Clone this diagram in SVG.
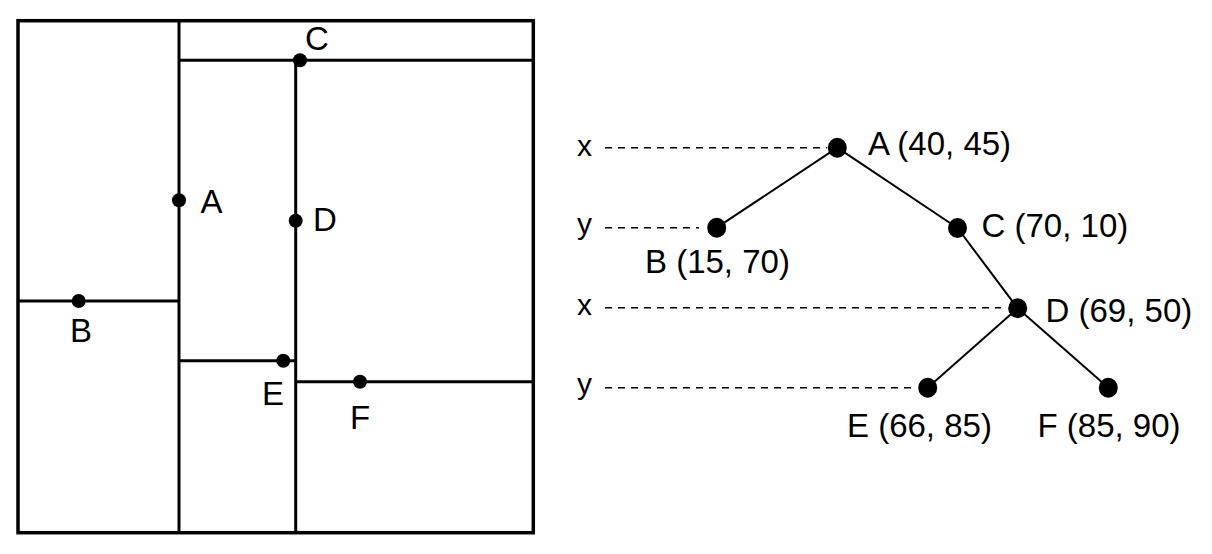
<svg xmlns="http://www.w3.org/2000/svg" width="1212" height="554" viewBox="0 0 1212 554">
<style>
.t{font-family:"Liberation Sans",Arial,sans-serif;font-size:33px;fill:#000}
.ax{font-family:"Liberation Sans",Arial,sans-serif;font-size:30px;fill:#000}
.frame{fill:none;stroke:#000;stroke-width:3.5}
.cut{fill:none;stroke:#000;stroke-width:3}
.edge{stroke:#000;stroke-width:2;fill:none}
.dash{stroke:#000;stroke-width:1.4;stroke-dasharray:7 6;fill:none}
.pt{fill:#000}
</style>
<rect x="0" y="0" width="1212" height="554" fill="#fff"/>
<g id="plane">
  <rect class="frame" x="18" y="20.7" width="515.3" height="512"/>
  <line class="cut" x1="179" y1="20.7" x2="179" y2="532.7"/>
  <line class="cut" x1="179" y1="60.3" x2="533.3" y2="60.3"/>
  <line class="cut" x1="295.7" y1="60.3" x2="295.7" y2="532.7"/>
  <line class="cut" x1="18" y1="301" x2="179" y2="301"/>
  <line class="cut" x1="179" y1="360.7" x2="295.7" y2="360.7"/>
  <line class="cut" x1="295.7" y1="381.7" x2="533.3" y2="381.7"/>
  <circle class="pt" cx="179" cy="200.3" r="7"/>
  <circle class="pt" cx="300" cy="60.3" r="7"/>
  <circle class="pt" cx="295.7" cy="220.7" r="7"/>
  <circle class="pt" cx="78.7" cy="301" r="7"/>
  <circle class="pt" cx="283.3" cy="360.7" r="7"/>
  <circle class="pt" cx="360" cy="381.7" r="7"/>
  <text class="t" x="200.5" y="213">A</text>
  <text class="t" x="305" y="50">C</text>
  <text class="t" x="313" y="230.5">D</text>
  <text class="t" x="70" y="341.5">B</text>
  <text class="t" x="262" y="405">E</text>
  <text class="t" x="350" y="429.3">F</text>
</g>
<g id="connectors">
  <line class="dash" x1="605" y1="147.7" x2="827" y2="147.7"/>
  <line class="dash" x1="605" y1="227.7" x2="699" y2="227.7"/>
  <line class="dash" x1="605" y1="307.7" x2="1001" y2="307.7"/>
  <line class="dash" x1="605" y1="387.7" x2="916" y2="387.7"/>
  <line class="edge" x1="837.3" y1="147.7" x2="716.7" y2="227.7"/>
  <line class="edge" x1="837.3" y1="147.7" x2="957.5" y2="228"/>
  <line class="edge" x1="957.5" y1="228" x2="1017.7" y2="308.3"/>
  <line class="edge" x1="1017.7" y1="308.3" x2="927.7" y2="387.7"/>
  <line class="edge" x1="1017.7" y1="308.3" x2="1108.3" y2="387.7"/>
</g>
<g id="levels">
  <text class="ax" x="577" y="155.5">x</text>
  <text class="ax" x="577" y="234">y</text>
  <text class="ax" x="577" y="315">x</text>
  <text class="ax" x="577" y="394">y</text>
</g>
<g id="node-A"><ellipse class="pt" cx="837.3" cy="147.7" rx="9.5" ry="10"/><text class="t" x="868" y="155">A (40, 45)</text></g>
<g id="node-B"><ellipse class="pt" cx="716.7" cy="227.7" rx="9.5" ry="10"/><text class="t" x="645" y="272.5">B (15, 70)</text></g>
<g id="node-C"><ellipse class="pt" cx="957.5" cy="228" rx="9.5" ry="10"/><text class="t" x="981.5" y="237">C (70, 10)</text></g>
<g id="node-D"><ellipse class="pt" cx="1017.7" cy="308.3" rx="9.5" ry="10"/><text class="t" x="1045.5" y="321.7">D (69, 50)</text></g>
<g id="node-E"><ellipse class="pt" cx="927.7" cy="387.7" rx="9.5" ry="10"/><text class="t" x="847" y="437">E (66, 85)</text></g>
<g id="node-F"><ellipse class="pt" cx="1108.3" cy="387.7" rx="9.5" ry="10"/><text class="t" x="1037.5" y="437">F (85, 90)</text></g>
</svg>
